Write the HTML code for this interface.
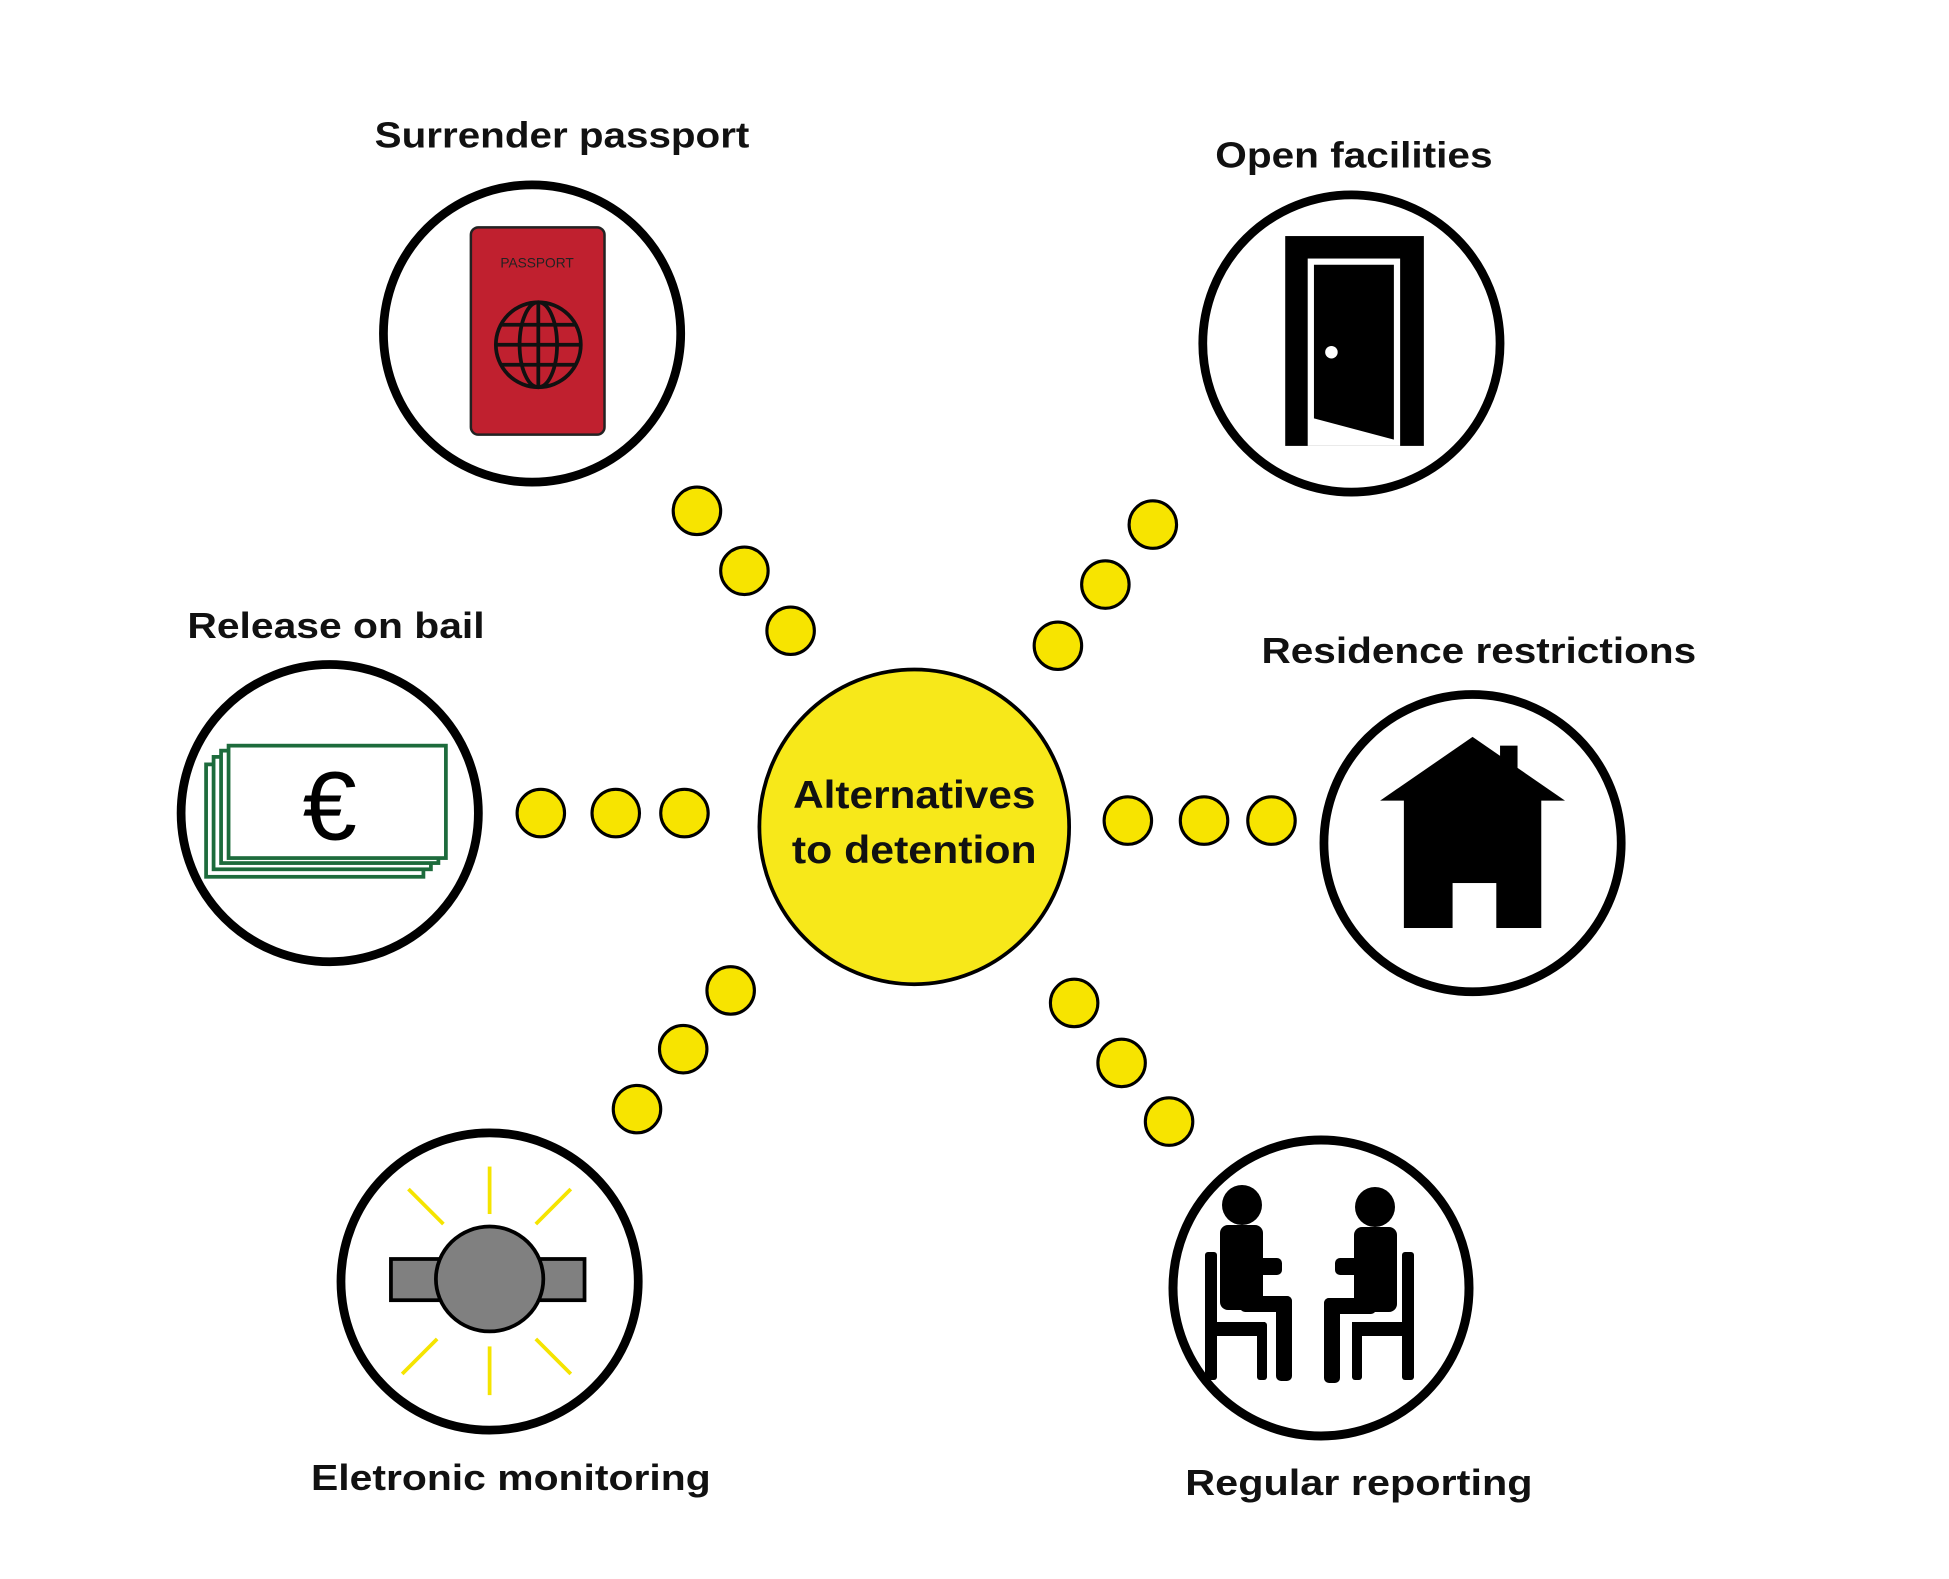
<!DOCTYPE html>
<html><head><meta charset="utf-8"><style>
html,body{margin:0;padding:0;background:#fff;}
svg{display:block}
text{font-family:"Liberation Sans","DejaVu Sans",sans-serif;fill:#111;}
</style></head><body>
<svg width="1949" height="1579" viewBox="0 0 1949 1579" xmlns="http://www.w3.org/2000/svg">
<g transform="scale(1.249)">
  <!-- labels -->
  <g font-size="29" font-weight="bold" text-anchor="middle">
    <text x="450" y="118" textLength="300" lengthAdjust="spacingAndGlyphs">Surrender passport</text>
    <text x="1084" y="134" textLength="222" lengthAdjust="spacingAndGlyphs">Open facilities</text>
    <text x="269" y="511" textLength="238" lengthAdjust="spacingAndGlyphs">Release on bail</text>
    <text x="1184" y="531" textLength="348" lengthAdjust="spacingAndGlyphs">Residence restrictions</text>
    <text x="409" y="1193" textLength="320" lengthAdjust="spacingAndGlyphs">Eletronic monitoring</text>
    <text x="1088" y="1197" textLength="278" lengthAdjust="spacingAndGlyphs">Regular reporting</text>
  </g>
  <!-- dots -->
  <g fill="#f7e400" stroke="#000" stroke-width="2.5">
    <ellipse cx="558" cy="409" rx="19" ry="19"/><ellipse cx="596" cy="457" rx="19" ry="19"/><ellipse cx="633" cy="505" rx="19" ry="19"/>
    <ellipse cx="923" cy="420" rx="19" ry="19"/><ellipse cx="885" cy="468" rx="19" ry="19"/><ellipse cx="847" cy="517" rx="19" ry="19"/>
    <ellipse cx="433" cy="651" rx="19" ry="19"/><ellipse cx="493" cy="651" rx="19" ry="19"/><ellipse cx="548" cy="651" rx="19" ry="19"/>
    <ellipse cx="903" cy="657" rx="19" ry="19"/><ellipse cx="964" cy="657" rx="19" ry="19"/><ellipse cx="1018" cy="657" rx="19" ry="19"/>
    <ellipse cx="585" cy="793" rx="19" ry="19"/><ellipse cx="547" cy="840" rx="19" ry="19"/><ellipse cx="510" cy="888" rx="19" ry="19"/>
    <ellipse cx="860" cy="803" rx="19" ry="19"/><ellipse cx="898" cy="851" rx="19" ry="19"/><ellipse cx="936" cy="898" rx="19" ry="19"/>
  </g>
  <!-- center -->
  <ellipse cx="732" cy="662" rx="124" ry="126" fill="#f7e81a" stroke="#000" stroke-width="3"/>
  <g font-size="31" font-weight="bold" text-anchor="middle">
    <text x="732" y="647" textLength="194" lengthAdjust="spacingAndGlyphs">Alternatives</text>
    <text x="732" y="691" textLength="196" lengthAdjust="spacingAndGlyphs">to detention</text>
  </g>
  <!-- outer circles -->
  <g fill="#fff" stroke="#000" stroke-width="7">
    <circle cx="426" cy="267" r="119"/>
    <circle cx="1082" cy="275" r="119"/>
    <circle cx="264" cy="651" r="119"/>
    <circle cx="1179" cy="675" r="119"/>
    <circle cx="392" cy="1026" r="119"/>
  </g>
  <!-- passport -->
  <rect x="377" y="182" width="107" height="166" rx="6" fill="#c0202f" stroke="#222" stroke-width="2"/>
  <text x="430" y="214" font-size="11" text-anchor="middle" fill="#222" style="fill:#222">PASSPORT</text>
  <g fill="none" stroke="#111" stroke-width="3">
    <circle cx="431" cy="276" r="34"/>
    <ellipse cx="431" cy="276" rx="15" ry="34"/>
    <line x1="431" y1="242" x2="431" y2="310"/>
    <line x1="397" y1="276" x2="465" y2="276"/>
    <line x1="401" y1="260" x2="461" y2="260"/>
    <line x1="401" y1="292" x2="461" y2="292"/>
  </g>
  <!-- door -->
  <rect x="1029" y="189" width="111" height="168" fill="#000"/>
  <rect x="1047" y="207" width="74" height="150" fill="#fff"/>
  <polygon points="1052,212 1116,212 1116,352 1052,335" fill="#000"/>
  <circle cx="1066" cy="282" r="5" fill="#fff"/>
  <!-- bail notes -->
  <g fill="#fff" stroke="#1d6b3c" stroke-width="3">
    <rect x="165" y="612" width="174" height="90"/>
    <rect x="171" y="606" width="174" height="90"/>
    <rect x="177" y="601" width="174" height="90"/>
    <rect x="183" y="597" width="174" height="90"/>
  </g>
  <text x="264" y="672" font-size="78" text-anchor="middle" style="fill:#000">€</text>
  <!-- house -->
  <rect x="1201" y="597" width="14" height="30" fill="#000"/>
  <polygon points="1179,590 1253,641 1105,641" fill="#000"/>
  <rect x="1124" y="638" width="110" height="105" fill="#000"/>
  <rect x="1163" y="707" width="35" height="37" fill="#fff"/>
  <!-- monitor -->
  <g stroke="#f5e400" stroke-width="3">
    <line x1="392" y1="934" x2="392" y2="972"/>
    <line x1="392" y1="1078" x2="392" y2="1117"/>
    <line x1="327" y1="952" x2="355" y2="980"/>
    <line x1="457" y1="952" x2="429" y2="980"/>
    <line x1="322" y1="1100" x2="350" y2="1072"/>
    <line x1="457" y1="1100" x2="429" y2="1072"/>
  </g>
  <rect x="313" y="1008" width="155" height="33" fill="#808080" stroke="#000" stroke-width="3"/>
  <ellipse cx="392" cy="1024" rx="43" ry="42" fill="#808080" stroke="#000" stroke-width="3"/>
</g>
<!-- reporting circle (actual coords) -->
<circle cx="1321" cy="1288" r="148" fill="#fff" stroke="#000" stroke-width="9"/>
<g fill="#000">
  <circle cx="1242" cy="1205" r="20"/>
  <rect x="1220" y="1225" width="43" height="85" rx="8"/>
  <rect x="1255" y="1258" width="27" height="17" rx="5"/>
  <rect x="1240" y="1296" width="52" height="16" rx="5"/>
  <rect x="1276" y="1296" width="16" height="85" rx="5"/>
  <rect x="1205" y="1252" width="12" height="128" rx="3"/>
  <rect x="1205" y="1322" width="60" height="14"/>
  <rect x="1257" y="1322" width="10" height="58" rx="3"/>
  <circle cx="1375" cy="1207" r="20"/>
  <rect x="1354" y="1227" width="43" height="85" rx="8"/>
  <rect x="1335" y="1258" width="27" height="17" rx="5"/>
  <rect x="1324" y="1298" width="52" height="16" rx="5"/>
  <rect x="1324" y="1298" width="16" height="85" rx="5"/>
  <rect x="1402" y="1252" width="12" height="128" rx="3"/>
  <rect x="1352" y="1322" width="60" height="14"/>
  <rect x="1352" y="1322" width="10" height="58" rx="3"/>
</g>
</svg>
</body></html>
